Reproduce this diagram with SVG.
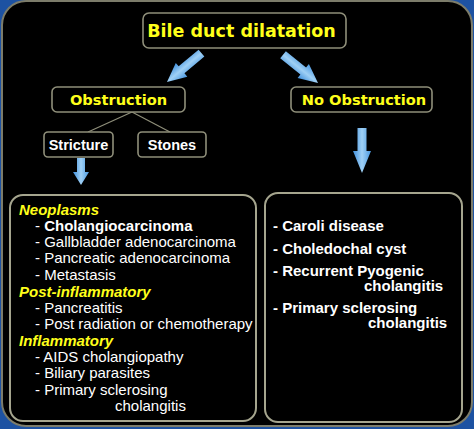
<svg xmlns="http://www.w3.org/2000/svg" width="474" height="429" viewBox="0 0 474 429">
<defs>
<linearGradient id="ag" x1="0" y1="0" x2="1" y2="0">
<stop offset="0" stop-color="#3f8fdc"/>
<stop offset="0.5" stop-color="#9fd0f5"/>
<stop offset="1" stop-color="#4a98e0"/>
</linearGradient>
<style>
.box{fill:#000;stroke:#8f8f7a;stroke-width:1.6}
.big{fill:#000;stroke:#a5a58e;stroke-width:2}
.ty{font-family:"DejaVu Sans",Verdana,sans-serif;font-weight:bold;fill:#ffff1a;text-anchor:middle}
.tw{font-family:"Liberation Sans",Arial,sans-serif;font-weight:bold;fill:#fff;font-size:14.5px;text-anchor:middle}
.li{font-family:"Liberation Sans",Arial,sans-serif;fill:#fff;font-size:15px}
.hd{font-family:"Liberation Sans",Arial,sans-serif;fill:#ffff1a;font-size:15px;font-weight:bold;font-style:italic}
.rb{font-family:"Liberation Sans",Arial,sans-serif;fill:#fff;font-size:15px;font-weight:bold}
.arr{fill:url(#ag)}
.ln{stroke:#8f8f7a;stroke-width:1.2;fill:none}
</style>
</defs>
<rect x="0" y="0" width="474" height="429" fill="#1d52a2"/>
<rect x="2" y="1" width="470" height="425" rx="24" fill="#000" stroke="#7c7c6a" stroke-width="2"/>
<g id="connectors">
<line class="ln" x1="132" y1="112" x2="88" y2="132"/>
<line class="ln" x1="132" y1="112" x2="170" y2="132"/>
<path class="arr" transform="translate(167,82) rotate(50)" d="M-4.5,-45 L4.5,-45 L4.5,-19 L9,-19 L0,0 L-9,-19 L-4.5,-19 Z"/>
<path class="arr" transform="translate(318,83) rotate(-51)" d="M-4.5,-45 L4.5,-45 L4.5,-19 L9,-19 L0,0 L-9,-19 L-4.5,-19 Z"/>
<path class="arr" transform="translate(362,173)" d="M-4.5,-45 L4.5,-45 L4.5,-22 L9,-22 L0,0 L-9,-22 L-4.5,-22 Z"/>
<path class="arr" transform="translate(81,185)" d="M-4,-27 L4,-27 L4,-13 L8,-13 L0,0 L-8,-13 L-4,-13 Z"/>
</g>
<g id="n-bile">
<rect class="box" x="143" y="13" width="203" height="35" rx="6"/>
<text class="ty" x="241.5" y="37" font-size="17.5">Bile duct dilatation</text>
</g>
<g id="n-obstruction">
<rect class="box" x="52" y="87" width="133" height="25" rx="5"/>
<text class="ty" x="118.5" y="104.5" font-size="14.6">Obstruction</text>
</g>
<g id="n-noobstruction">
<rect class="box" x="291" y="87" width="141" height="25" rx="5"/>
<text class="ty" x="364" y="104.5" font-size="14.6">No Obstruction</text>
</g>
<g id="n-stricture">
<rect class="box" x="44" y="132" width="69" height="25" rx="4"/>
<text class="tw" x="78.5" y="150">Stricture</text>
</g>
<g id="n-stones">
<rect class="box" x="138" y="132" width="68" height="25" rx="4"/>
<text class="tw" x="172" y="150">Stones</text>
</g>
<g id="n-obstruction-causes">
<rect class="big" x="10" y="195" width="246" height="226" rx="13"/>
<text class="hd" x="19" y="215">Neoplasms</text>
<text class="li" x="35" y="231">- <tspan font-weight="bold">Cholangiocarcinoma</tspan></text>
<text class="li" x="35" y="247">- Gallbladder adenocarcinoma</text>
<text class="li" x="35" y="263">- Pancreatic adenocarcinoma</text>
<text class="li" x="35" y="280">- Metastasis</text>
<text class="hd" x="19" y="297">Post-inflammatory</text>
<text class="li" x="35" y="313">- Pancreatitis</text>
<text class="li" x="35" y="329">- Post radiation or chemotherapy</text>
<text class="hd" x="19" y="346">Inflammatory</text>
<text class="li" x="35" y="362">- AIDS cholangiopathy</text>
<text class="li" x="35" y="378">- Biliary parasites</text>
<text class="li" x="35" y="395">- Primary sclerosing</text>
<text class="li" x="115" y="411">cholangitis</text>
</g>
<g id="n-noobstruction-causes">
<rect class="big" x="265" y="193" width="197" height="229" rx="13"/>
<text class="rb" x="273" y="231">- Caroli disease</text>
<text class="rb" x="273" y="254">- Choledochal cyst</text>
<text class="rb" x="273" y="276">- Recurrent Pyogenic</text>
<text class="rb" x="364" y="291">cholangitis</text>
<text class="rb" x="273" y="313">- Primary sclerosing</text>
<text class="rb" x="368" y="328">cholangitis</text>
</g>
</svg>
